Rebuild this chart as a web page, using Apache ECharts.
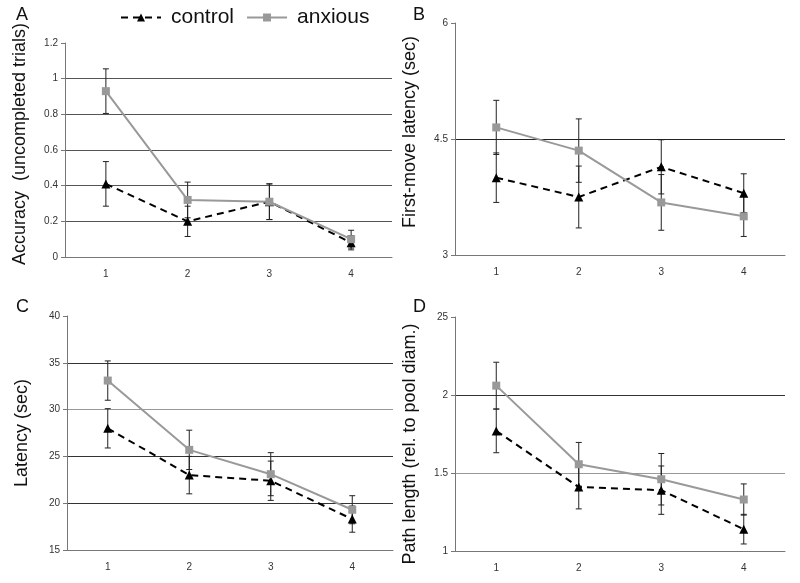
<!DOCTYPE html>
<html>
    <head>
        <meta charset="utf-8">
        <title>maze-learning</title>
        <style>html,body{margin:0;padding:0;background:#fff}#chart{width:800px;height:583px}</style>
    </head>
    <body>
        <div id="chart"></div>
        <script type="text/javascript" src="https://fastly.jsdelivr.net/npm/echarts@6/dist/echarts.min.js"></script>
        <script>
            // 数据
            const categories = ['1', '2', '3', '4'];

            // A: accuracy
            const accControl = [0.41, 0.20, 0.31, 0.08];
            const accControlErr = [0.125, 0.085, 0.10, 0.04];
            const accAnxious = [0.93, 0.32, 0.31, 0.10];
            const accAnxiousErr = [0.125, 0.10, 0.10, 0.05];

            // B: first-move latency
            const firstControl = [4.00, 3.75, 4.14, 3.80];
            const firstControlErr = [0.32, 0.40, 0.35, 0.25];
            const firstAnxious = [4.65, 4.35, 3.68, 3.50];
            const firstAnxiousErr = [0.35, 0.41, 0.36, 0.26];

            // C: latency
            const latControl = [28.0, 23.0, 22.4, 18.3];
            const latControlErr = [2.1, 2.0, 2.1, 1.4];
            const latAnxious = [33.1, 25.7, 23.1, 19.3];
            const latAnxiousErr = [2.1, 2.1, 2.3, 1.5];

            // D: path length
            const pathControl = [1.77, 1.41, 1.39, 1.14];
            const pathControlErr = [0.14, 0.14, 0.155, 0.095];
            const pathAnxious = [2.06, 1.556, 1.46, 1.33];
            const pathAnxiousErr = [0.15, 0.14, 0.165, 0.10];

            const yNames = ['Accuracy  (uncompleted trials)', 'First-move latency (sec)', 'Latency (sec)', 'Path length (rel. to pool diam.)'];
            const panelLetters = ['A', 'B', 'C', 'D'];

            const tickFont = '"Liberation Sans Narrow", "Liberation Sans", Arial, sans-serif';
            const mainFont = '"Liberation Sans", Arial, sans-serif';

            const panels = [
                { ctrl: accControl, ctrlErr: accControlErr, anx: accAnxious, anxErr: accAnxiousErr,
                  min: 0, max: 1.2, interval: 0.2, grid: { left: 65, right: 408, top: 43, bottom: 326 },
                  gridColors: ['#555'], namePad: [0, 0, 0, 12], fmt: v => String(+v.toFixed(1)) },
                { ctrl: firstControl, ctrlErr: firstControlErr, anx: firstAnxious, anxErr: firstAnxiousErr,
                  min: 3, max: 6, interval: 1.5, grid: { left: 455, right: 15, top: 23, bottom: 328 },
                  gridColors: ['#222'], namePad: [0, 0, 0, 14], fmt: v => String(v) },
                { ctrl: latControl, ctrlErr: latControlErr, anx: latAnxious, anxErr: latAnxiousErr,
                  min: 15, max: 40, interval: 5, grid: { left: 67, right: 407, top: 316, bottom: 33 },
                  gridColors: ['#333', '#333', '#999', '#333'], namePad: 0, fmt: v => String(v) },
                { ctrl: pathControl, ctrlErr: pathControlErr, anx: pathAnxious, anxErr: pathAnxiousErr,
                  min: 1, max: 2.5, interval: 0.5, grid: { left: 455, right: 15, top: 317, bottom: 32 },
                  gridColors: ['#999', '#333'], namePad: [0, 20, 0, 0], fmt: v => (v === 2.5 ? '25' : String(v)) }
            ];

            function errorBarItem(params, api) {
                const x = api.value(0);
                const lo = api.coord([x, api.value(1)]);
                const hi = api.coord([x, api.value(2)]);
                const w = 3;
                const st = { stroke: '#222', lineWidth: 1 };
                return {
                    type: 'group',
                    children: [
                        { type: 'line', shape: { x1: hi[0], y1: hi[1], x2: lo[0], y2: lo[1] }, style: st },
                        { type: 'line', shape: { x1: hi[0] - w, y1: hi[1], x2: hi[0] + w, y2: hi[1] }, style: st },
                        { type: 'line', shape: { x1: lo[0] - w, y1: lo[1], x2: lo[0] + w, y2: lo[1] }, style: st }
                    ]
                };
            }

            function errData(vals, errs) {
                return vals.map((v, i) => [i, v - errs[i], v + errs[i]]);
            }

            const grids = [], xAxes = [], yAxes = [], series = [], graphics = [];
            panels.forEach((p, i) => {
                grids.push(p.grid);
                xAxes.push({
                    type: 'category', gridIndex: i, data: categories, boundaryGap: true,
                    axisLine: { lineStyle: { color: '#777' } },
                    axisTick: { lineStyle: { color: '#777' }, length: 4 },
                    axisLabel: { fontFamily: tickFont, fontSize: 10, color: '#333', margin: 12 },
                    splitLine: { show: false }
                });
                yAxes.push({
                    type: 'value', gridIndex: i, min: p.min, max: p.max, interval: p.interval,
                    name: yNames[i], nameLocation: 'middle', nameGap: 36,
                    nameTextStyle: { fontFamily: mainFont, fontSize: 18, color: '#111', padding: p.namePad },
                    axisLine: { show: true, lineStyle: { color: '#777' } },
                    axisTick: { show: true, lineStyle: { color: '#777' }, length: 4 },
                    axisLabel: { fontFamily: tickFont, fontSize: 10, color: '#333', margin: 7, formatter: p.fmt },
                    splitLine: { show: true, showMinLine: false, showMaxLine: false, lineStyle: { color: p.gridColors, width: 1 } }
                });
                series.push({
                    type: 'custom', name: 'ctrlErr' + i, xAxisIndex: i, yAxisIndex: i,
                    renderItem: errorBarItem, encode: { x: 0, y: [1, 2] }, data: errData(p.ctrl, p.ctrlErr), z: 1
                });
                series.push({
                    type: 'custom', name: 'anxErr' + i, xAxisIndex: i, yAxisIndex: i,
                    renderItem: errorBarItem, encode: { x: 0, y: [1, 2] }, data: errData(p.anx, p.anxErr), z: 1
                });
                series.push({
                    type: 'line', name: 'control', xAxisIndex: i, yAxisIndex: i, data: p.ctrl,
                    symbol: 'triangle', symbolSize: 9,
                    itemStyle: { color: '#000' },
                    lineStyle: { color: '#000', width: 2, type: [7, 5] }, z: 3
                });
                series.push({
                    type: 'line', name: 'anxious', xAxisIndex: i, yAxisIndex: i, data: p.anx,
                    symbol: 'rect', symbolSize: 8,
                    itemStyle: { color: '#999' },
                    lineStyle: { color: '#999', width: 2 }, z: 4
                });
                graphics.push({
                    type: 'text', left: i % 2 === 0 ? 16 : 413, top: i < 2 ? 6 : 298,
                    style: { text: panelLetters[i], font: '18px ' + mainFont, fill: '#111' }
                });
            });

            const chart = echarts.init(document.getElementById('chart'));
            chart.setOption({
                animation: false,
                legend: {
                    data: ['control', 'anxious'], left: 115, top: 2,
                    itemWidth: 40, itemHeight: 10, itemGap: 12,
                    textStyle: { fontFamily: mainFont, fontSize: 21, color: '#111', padding: [0, 0, 0, 5] }
                },
                grid: grids,
                xAxis: xAxes,
                yAxis: yAxes,
                series: series,
                graphic: graphics
            });
        </script>
    </body>
</html>
